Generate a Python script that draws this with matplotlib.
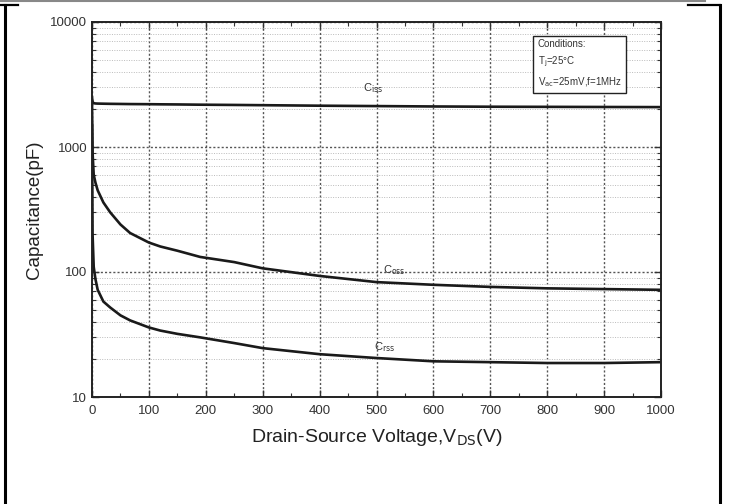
import matplotlib
matplotlib.use("Agg")
import matplotlib.pyplot as plt
from matplotlib.ticker import MultipleLocator, LogLocator, NullFormatter, FixedLocator, FixedFormatter
from matplotlib.lines import Line2D

plt.rcParams['font.family'] = ['Liberation Sans', 'DejaVu Sans']

vds = [0, 1, 3, 6, 10, 20, 32, 50, 67, 100, 120, 150, 190, 250, 300, 400, 500, 600, 700, 800, 900, 1000]
ciss = [2500, 2300, 2240, 2230, 2225, 2220, 2215, 2210, 2205, 2200, 2195, 2190, 2180, 2170, 2160, 2140, 2125, 2110, 2100, 2095, 2090, 2085]
coss = [2300, 900, 600, 520, 450, 360, 300, 240, 205, 172, 160, 148, 132, 120, 107, 93, 83, 79, 76, 74, 73, 72]
crss = [1500, 200, 110, 88, 72, 58, 52, 45, 41, 36, 34, 32, 30, 27, 24.6, 22, 20.5, 19.3, 19, 18.7, 18.7, 19]

xticks = [0, 100, 200, 300, 400, 500, 600, 700, 800, 900, 1000]
yticks = [10, 100, 1000, 10000]
ylabels = ['10', '100', '1000', '10000']

fig = plt.figure(figsize=(7.29, 5.04), dpi=100)
fig.patch.set_facecolor('white')
ax = fig.add_axes([92/729, 1-397/504, (661-92)/729, (397-22)/504])

ax.set_yscale('log')
ax.set_xlim(0, 1000)
ax.set_ylim(10, 10000)

ax.plot(vds, ciss, color='#1a1a1a', lw=1.9)
ax.plot(vds, coss, color='#1a1a1a', lw=1.9)
ax.plot(vds, crss, color='#1a1a1a', lw=1.9)

ax.xaxis.set_major_locator(FixedLocator(xticks))
ax.xaxis.set_minor_locator(MultipleLocator(50))
ax.yaxis.set_major_locator(FixedLocator(yticks))
ax.yaxis.set_major_formatter(FixedFormatter(ylabels))
ax.yaxis.set_minor_locator(LogLocator(base=10, subs=range(2, 10)))
ax.yaxis.set_minor_formatter(NullFormatter())

ax.grid(which='major', axis='both', color='#555555', ls=(0, (1.5, 1.5)), lw=1.0)
ax.grid(which='minor', axis='y', color='#bbbbbb', ls=(0, (1, 1.5)), lw=0.7)

ax.tick_params(which='both', direction='in', top=True, right=True, labelsize=9.5, colors='#333333')
ax.tick_params(which='major', length=5, width=1)
ax.tick_params(which='minor', length=3, width=0.8)
ax.tick_params(axis='x', pad=6)
for s in ax.spines.values():
    s.set_linewidth(1.4)
    s.set_color('#222222')

ax.set_xlabel('Drain-Source Voltage,V$_{\\mathrm{DS}}$(V)', fontsize=14, color='#222222', labelpad=7)
ax.set_ylabel('Capacitance(pF)', fontsize=13.5, color='#222222', labelpad=5)

ax.text(494, 2960, 'C$_{\\mathrm{iss}}$', fontsize=8, ha='center', va='center', color='#333333')
ax.text(532, 104, 'C$_{\\mathrm{oss}}$', fontsize=8, ha='center', va='center', color='#333333')
ax.text(515, 25, 'C$_{\\mathrm{rss}}$', fontsize=8, ha='center', va='center', color='#333333')

ax.text(0.783, 0.955, 'Conditions:\nT$_{\\mathrm{j}}$=25\u00b0C\nV$_{\\mathrm{ac}}$=25mV,f=1MHz',
        transform=ax.transAxes, fontsize=7, va='top', ha='left', color='#333333', linespacing=1.6,
        bbox=dict(boxstyle='square,pad=0.5', fc='white', ec='#222222', lw=1.0))

W, H = 729, 504
def fl(x0, y0, x1, y1, color, lw):
    fig.add_artist(Line2D([x0/W, x1/W], [1-y0/H, 1-y1/H], transform=fig.transFigure, color=color, lw=lw))

fl(0, 1, 705, 1, '#888888', 1.5)
fl(0, 5, 18, 5, 'black', 1.6)
fl(5, 5, 5, 504, 'black', 2.2)
fl(688, 5, 720, 5, 'black', 1.6)
fl(720, 5, 720, 504, 'black', 2.2)

fig.savefig('out.png', dpi=100)
